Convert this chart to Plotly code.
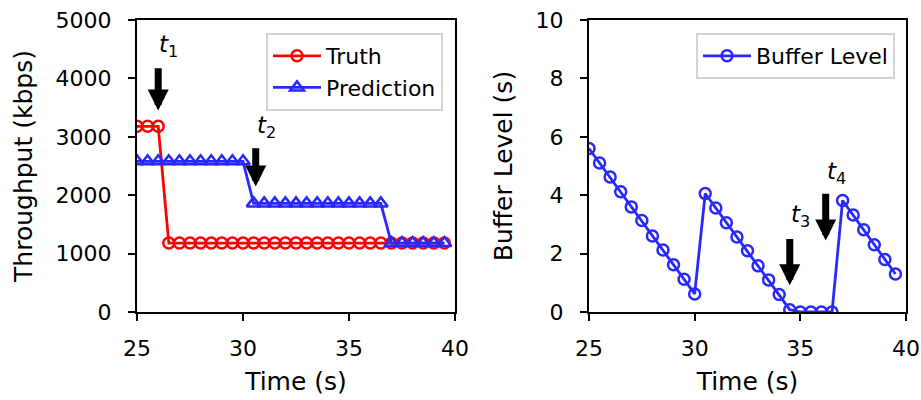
import plotly.graph_objects as go

# ---- data ----
truth_t = [25 + 0.5 * i for i in range(30)]
truth_v = [3180, 3180, 3180] + [1180] * 27

pred_t = [25 + 0.5 * i for i in range(30)]
pred_v = [2580] * 11 + [1860] * 13 + [1180] * 6

buf_t = [25 + 0.5 * i for i in range(30)]
buf_v = [5.6, 5.1, 4.62, 4.12, 3.6, 3.13, 2.6, 2.12, 1.62, 1.12, 0.62,
         4.06, 3.56, 3.06, 2.57, 2.1, 1.58, 1.1, 0.6, 0.08,
         0.0, 0.0, 0.0, 0.0, 3.82, 3.32, 2.82, 2.3, 1.8, 1.3]

# annotation arrows: (x, y_head, y_tail, label_x, label_y, label, axis)
arrows = [
    (26.0, 3450, 4200, 26.5, 4560, "<i>t</i><sub>1</sub>", 1),
    (30.6, 2150, 2830, 31.1, 3160, "<i>t</i><sub>2</sub>", 1),
    (34.5, 0.92, 2.55, 35.0, 3.3, "<i>t</i><sub>3</sub>", 2),
    (36.2, 2.45, 4.1, 36.7, 4.75, "<i>t</i><sub>4</sub>", 2),
]

RED = "rgb(255,0,0)"
BLUE = "rgb(40,40,255)"
FONT = "DejaVu Sans"

fig = go.Figure()
fig.add_trace(go.Scatter(x=truth_t, y=truth_v, name="Truth", mode="lines+markers",
                         line=dict(color=RED, width=2.8),
                         marker=dict(symbol="circle-open", size=11, line=dict(width=2.5, color=RED)),
                         xaxis="x", yaxis="y", legend="legend"))
fig.add_trace(go.Scatter(x=pred_t, y=pred_v, name="Prediction", mode="lines+markers",
                         line=dict(color=BLUE, width=2.8),
                         marker=dict(symbol="triangle-up-open", size=12, line=dict(width=2.5, color=BLUE)),
                         xaxis="x", yaxis="y", legend="legend"))
fig.add_trace(go.Scatter(x=buf_t, y=buf_v, name="Buffer Level", mode="lines+markers",
                         line=dict(color=BLUE, width=2.8),
                         marker=dict(symbol="circle-open", size=11, line=dict(width=2.5, color=BLUE)),
                         xaxis="x2", yaxis="y2", legend="legend2"))

axis_common = dict(showline=True, linecolor="black", linewidth=2, mirror=True,
                   ticks="outside", ticklen=7, tickwidth=2, tickcolor="black",
                   showgrid=False, zeroline=False, automargin=False,
                   tickfont=dict(family=FONT, size=22, color="black"))

TITLE_FONT = dict(family=FONT, size=25, color="black")

fig.update_layout(
    width=921, height=400,
    margin=dict(l=0, r=0, t=0, b=0),
    plot_bgcolor="white", paper_bgcolor="white",
    font=dict(family=FONT, size=22, color="black"),
    xaxis=dict(domain=[137/921, 455/921], range=[25, 40], tickvals=[25, 30, 35, 40],
               ticklabelstandoff=9,
               title=dict(text="Time (s)", font=TITLE_FONT, standoff=12), anchor="y", **axis_common),
    yaxis=dict(domain=[1-312/400, 1-20/400], range=[0, 5000], tickvals=[0, 1000, 2000, 3000, 4000, 5000],
               ticklabelstandoff=12,
               title=dict(text="Throughput (kbps)", font=TITLE_FONT, standoff=16), anchor="x", **axis_common),
    xaxis2=dict(domain=[589/921, 906/921], range=[25, 40], tickvals=[25, 30, 35, 40],
                ticklabelstandoff=9,
                title=dict(text="Time (s)", font=TITLE_FONT, standoff=12), anchor="y2", **axis_common),
    yaxis2=dict(domain=[1-312/400, 1-20/400], range=[0, 10], tickvals=[0, 2, 4, 6, 8, 10],
                ticklabelstandoff=12,
                title=dict(text="Buffer Level (s)", font=TITLE_FONT, standoff=16), anchor="x2", **axis_common),
    legend=dict(x=443/921, xanchor="right", y=1-33/400, yanchor="top",
                bordercolor="rgb(210,210,210)", borderwidth=2, bgcolor="white",
                font=dict(size=22), itemwidth=48, tracegroupgap=0),
    legend2=dict(x=895/921, xanchor="right", y=1-33/400, yanchor="top",
                 bordercolor="rgb(210,210,210)", borderwidth=2, bgcolor="white",
                 font=dict(size=22), itemwidth=48),
    showlegend=True,
)

for (x, yh, yt, lx, ly, lab, ax) in arrows:
    xr = "x" if ax == 1 else "x2"
    yr = "y" if ax == 1 else "y2"
    fig.add_annotation(x=x, y=yh, ax=x, ay=yt, xref=xr, yref=yr, axref=xr, ayref=yr,
                       showarrow=True, arrowhead=2, arrowsize=0.6, arrowwidth=7,
                       arrowcolor="black", text="")
    fig.add_annotation(x=lx, y=ly, xref=xr, yref=yr, text=lab, showarrow=False,
                       font=dict(family=FONT, size=23, color="black"))

fig.write_html("out.html")
